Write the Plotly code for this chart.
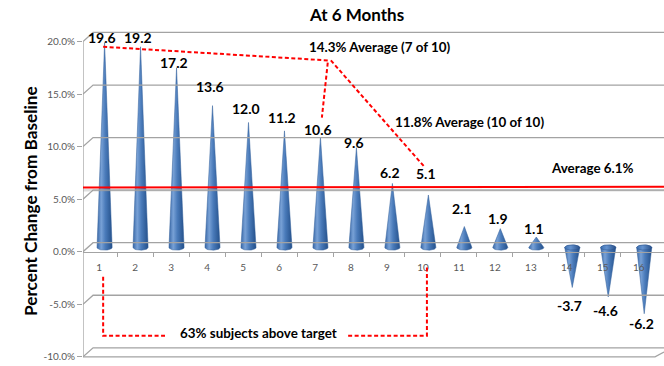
import numpy as np
import plotly.graph_objects as go

# ---------------- data ----------------
subjects = list(range(1, 17))
subject_labels = [str(s) for s in subjects]
pct_change = [19.6, 19.2, 17.2, 13.6, 12.0, 11.2, 10.6, 9.6, 6.2, 5.1, 2.1, 1.9, 1.1, -3.7, -4.6, -6.2]
average_value = 6.1
y_tick_vals = [-10, -5, 0, 5, 10, 15, 20]
y_tick_text = ["-10.0%", "-5.0%", "0.0%", "5.0%", "10.0%", "15.0%", "20.0%"]

# label vertical nudges (px), as placed in the original
label_lift_px = [8, 12, 8, 22, 17, 17, 11, 8, 14, 25, 21, 13, 12, -15, -10, -7]

# ---------------- style ----------------
FONT = "Lato"
X0, X1 = 0.55, 16.7
Y0, Y1 = -10.3, 21.0
DX, DY = 0.28, 0.86          # 3-D back-wall offset
CONE_DX = 0.15               # cone offset into depth
HALF_W = 0.21
ELL_H = 0.25
BASE_Y = 0.4
TIP_UP = 0.3
GRID = "#a3a3a3"
cone_scale = [[0, "#3867a6"], [0.28, "#78a1d6"], [0.55, "#4a7bba"], [1, "#24508a"]]
top_scale = [[0, "#3f72b3"], [0.4, "#6392cf"], [1, "#284f88"]]

fig = go.Figure()

# gridlines (back wall) with diagonal connectors to the front axis
shapes = []
for v in y_tick_vals:
    shapes.append(dict(type="path", xref="x", yref="y",
                       path=f"M {X0},{v} L {X0+DX},{v+DY} L {X1},{v+DY}",
                       line=dict(color=GRID, width=1.3)))
# front edge of bottom floor
shapes.append(dict(type="path", xref="x", yref="y",
                   path=f"M {X0},{y_tick_vals[0]} L {X1-0.25},{y_tick_vals[0]} L {X1},{y_tick_vals[0]+0.45}",
                   line=dict(color=GRID, width=1.3)))
# front y-axis line
shapes.append(dict(type="line", xref="x", yref="y", x0=X0, x1=X0,
                   y0=y_tick_vals[0], y1=y_tick_vals[-1], line=dict(color=GRID, width=1.3)))
fig.update_layout(shapes=shapes)

# cones
t_low = np.linspace(0, -np.pi, 25)
t_up = np.linspace(0, np.pi, 25)
t_full = np.linspace(0, 2 * np.pi, 49)
for s, v in zip(subjects, pct_change):
    cx = s + CONE_DX
    tip = v + TIP_UP
    if v >= 0:
        xs = [cx - HALF_W, cx, cx + HALF_W] + list(cx + HALF_W * np.cos(t_low))
        ys = [BASE_Y, tip, BASE_Y] + list(BASE_Y + ELL_H * np.sin(t_low))
    else:
        xs = [cx - HALF_W, cx, cx + HALF_W] + list(cx + HALF_W * np.cos(t_up))
        ys = [BASE_Y, tip, BASE_Y] + list(BASE_Y + ELL_H * np.sin(t_up))
    fig.add_trace(go.Scatter(x=xs, y=ys, mode="lines", fill="toself",
                             line=dict(width=0.5, color="#2f5d98"),
                             fillgradient=dict(type="horizontal", colorscale=cone_scale),
                             hoverinfo="skip", showlegend=False))
    if v < 0:
        fig.add_trace(go.Scatter(x=list(cx + HALF_W * np.cos(t_full)),
                                 y=list(BASE_Y + ELL_H * np.sin(t_full)),
                                 mode="lines", fill="toself",
                                 line=dict(width=0.5, color="#284f88"),
                                 fillgradient=dict(type="horizontal", colorscale=top_scale),
                                 hoverinfo="skip", showlegend=False))

# average line
fig.add_shape(type="line", xref="x", yref="y", x0=X0, x1=X1,
              y0=average_value - 0.24, y1=average_value - 0.24,
              line=dict(color="rgba(150,150,150,0.3)", width=2.5))
fig.add_shape(type="line", xref="x", yref="y", x0=X0, x1=X1,
              y0=average_value, y1=average_value + 0.08,
              line=dict(color="#ff0000", width=2))

# red dashed callouts
RED_DASH = dict(color="#ff0000", width=2, dash="4px,2.5px")
fig.add_shape(type="path", xref="x", yref="y",
              path="M 1.11,19.5 L 7.36,18.2 L 7.19,12.76", line=RED_DASH)
fig.add_shape(type="path", xref="x", yref="y",
              path="M 7.44,18.2 L 10.06,8.0", line=RED_DASH)
fig.add_shape(type="path", xref="x", yref="y",
              path="M 1.11,-2.38 L 1.11,-8.0 L 2.83,-8.0", line=RED_DASH)
fig.add_shape(type="path", xref="x", yref="y",
              path="M 7.92,-8.0 L 10.11,-8.0 L 10.11,-1.43", line=RED_DASH)

# data labels
for s, v, lift in zip(subjects, pct_change, label_lift_px):
    fig.add_annotation(x=s + 0.08, y=v, yshift=lift, text=f"{v:.1f}", showarrow=False,
                       font=dict(family=FONT, size=14, color="black", weight="bold"),
                       xanchor="center", yanchor="middle")

# text annotations
notes = [
    ("14.3% Average (7 of 10)", 8.81, 19.5),
    ("11.8% Average (10 of 10)", 11.28, 12.38),
    ("Average 6.1%", 14.71, 8.0),
    ("63% subjects above target", 5.43, -7.71),
]
for txt, x, y in notes:
    fig.add_annotation(x=x, y=y, text=txt, showarrow=False, xanchor="center", yanchor="middle",
                       font=dict(family=FONT, size=13.4, color="black", weight="bold"))

fig.add_annotation(xref="paper", yref="paper", x=(356 - 83) / 581, y=(360 - 15) / 329,
                   text="At 6 Months", showarrow=False, xanchor="center", yanchor="middle",
                   font=dict(family=FONT, size=17, color="black", weight="bold"))
fig.add_annotation(xref="paper", yref="paper", x=(30 - 83) / 581, y=(360 - 201) / 329,
                   text="Percent Change from Baseline", textangle=-90, showarrow=False,
                   xanchor="center", yanchor="middle",
                   font=dict(family=FONT, size=17.2, color="black", weight="bold"))

fig.update_layout(
    template="none",
    width=664, height=366,
    margin=dict(l=83, r=0, t=31, b=6, autoexpand=False),
    paper_bgcolor="white", plot_bgcolor="white",
    showlegend=False,
    xaxis=dict(range=[X0, X1], showgrid=False, zeroline=False, automargin=False,
               anchor="free", position=(0 - Y0) / (Y1 - Y0),
               showline=True, linecolor=GRID, linewidth=1.3,
               tickmode="array", tickvals=subjects, ticktext=subject_labels,
               ticks="outside", ticklen=6, tickcolor="rgba(0,0,0,0)",
               tickfont=dict(family=FONT, size=10, color="#595959"),
               minor=dict(tickmode="array", tickvals=[s + 0.5 for s in subjects[:-1]],
                          ticks="outside", ticklen=4, tickcolor=GRID, tickwidth=1, showgrid=False)),
    yaxis=dict(range=[Y0, Y1], showgrid=False, zeroline=False, showline=False, automargin=False,
               tickmode="array", tickvals=y_tick_vals, ticktext=y_tick_text,
               ticks="outside", ticklen=5, tickcolor=GRID,
               tickfont=dict(family=FONT, size=10, color="#595959")),
)

fig.write_html("out.html", config={"displayModeBar": False},
               post_script="document.body.style.margin='0';document.body.style.overflow='hidden';")
